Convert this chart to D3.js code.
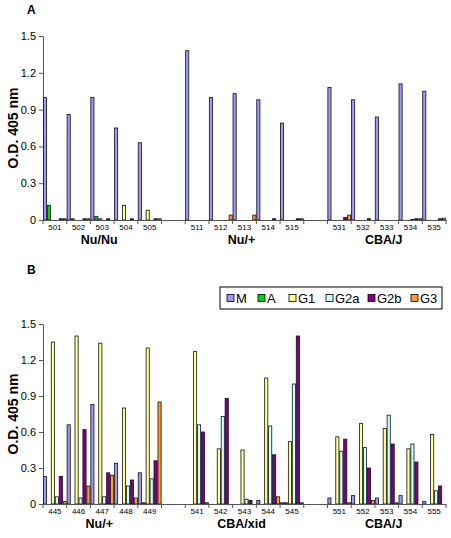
<!DOCTYPE html>
<html><head><meta charset="utf-8">
<script src="https://cdn.jsdelivr.net/npm/d3@7/dist/d3.min.js"></script>
<style>body{margin:0;background:#fff}svg{display:block;font-family:"Liberation Sans",Arial,sans-serif}</style>
</head><body><svg id="c" width="451" height="538"></svg>
<script>
const seriesNames = ["M","A","G1","G2a","G2b","G3"];
const seriesColors = ["#9999ff","#11cc11","#ffff99","#ccffff","#800080","#ff9933"];
const yTicks = [0,0.3,0.6,0.9,1.2,1.5];

// Panel A
const catsA = ["501","502","503","504","505","","511","512","513","514","515","","531","532","533","534","535"];
const groupsA = ["Nu/Nu","Nu/+","CBA/J"];
const A_M   = [1.00,0.86,1.00,0.75,0.63,null,1.38,1.00,1.03,0.98,0.79,null,1.08,0.98,0.84,1.11,1.05];
const A_A   = [0.12,0.01,0.03,0,0,null,0,0,0,0,0,null,0,0,0,0,0];
const A_G1  = [0,0,0.01,0.12,0.08,null,0,0,0,0,0,null,0,0,0,0,0];
const A_G2a = [0,0,0,0,0,null,0,0,0,0,0,null,0,0,0,0.005,0];
const A_G2b = [0.01,0.01,0.01,0.01,0.01,null,0,0,0,0.01,0.01,null,0.02,0.01,0,0.01,0.01];
const A_G3  = [0.01,0.01,0,0,0.01,null,0,0.04,0.04,0,0.01,null,0.04,0,0,0.01,0.015];

// Panel B
const catsB = ["445","446","447","448","449","","541","542","543","544","545","","551","552","553","554","555"];
const groupsB = ["Nu/+","CBA/xid","CBA/J"];
const B_M   = [0.23,0.66,0.83,0.34,0.26,null,0,0,0,0.03,0.01,null,0.05,0.07,0.05,0.07,0.02];
const B_A   = [0,0,0,0,0.01,null,0,0,0,0,0.01,null,0,0,0,0,0];
const B_G1  = [1.35,1.40,1.34,0.80,1.30,null,1.27,0.46,0.45,1.05,0.52,null,0.56,0.67,0.63,0.46,0.58];
const B_G2a = [0.06,0.05,0.06,0.15,0.21,null,0.66,0.73,0.04,0.65,1.00,null,0.44,0.47,0.74,0.50,0.11];
const B_G2b = [0.23,0.62,0.26,0.20,0.36,null,0.60,0.88,0.03,0.41,1.40,null,0.54,0.30,0.50,0.35,0.15];
const B_G3  = [0.02,0.15,0.24,0.05,0.85,null,0.01,0,0,0.06,0.01,null,0.01,0.03,0.01,0,0];

const svg = d3.select("#c");
const color = d3.scaleOrdinal(seriesNames, seriesColors);

function panel(cfg){
  const g = svg.append("g");
  const keys = cfg.cats.map((c,i)=> c===""?"gap"+i:c);
  const x = d3.scaleBand().domain(keys).range([cfg.x0, cfg.x1]).paddingInner(0).paddingOuter(0);
  const x1 = d3.scaleBand().domain(seriesNames).range([0, x.bandwidth()]).padding(0);
  const y = d3.scaleLinear().domain([0,1.5]).range([cfg.yb, cfg.yt]);

  g.append("text").attr("x", 27).attr("y", cfg.letterY).attr("font-size", 12).attr("font-weight","bold").text(cfg.letter);

  const ya = g.append("g").attr("transform",`translate(${cfg.x0},0)`)
    .call(d3.axisLeft(y).tickValues(yTicks).tickSize(4).tickSizeOuter(0).tickPadding(3)
      .tickFormat(d=> d===0?"0":d3.format(".1f")(d)));
  ya.selectAll("path,line").attr("stroke","#555");
  ya.selectAll("text").attr("font-size",11).attr("fill","#000").attr("font-family","Liberation Sans, Arial, sans-serif");

  g.append("text").attr("transform",`translate(18,${(cfg.yt+cfg.yb)/2}) rotate(-90)`)
    .attr("text-anchor","middle").attr("font-size",14).attr("font-weight","bold").text("O.D. 405 nm");

  const rows = [];
  cfg.series.forEach((arr,si)=>{
    arr.forEach((v,i)=>{ if(v!==null && v>0) rows.push({k:keys[i], s:seriesNames[si], v}); });
  });
  g.append("g").selectAll("rect").data(rows).join("rect")
    .attr("x", d=> x(d.k)+x1(d.s)+0.4)
    .attr("width", x1.bandwidth()-0.8)
    .attr("y", d=> y(d.v))
    .attr("height", d=> Math.max(0.8, y(0)-y(d.v)))
    .attr("fill", d=> color(d.s))
    .attr("stroke","#111").attr("stroke-width",0.8);

  const xa = g.append("g").attr("transform",`translate(0,${cfg.yb})`)
    .call(d3.axisBottom(x).tickSize(0).tickPadding(4).tickFormat(k=> k.startsWith("gap")?"":k));
  xa.select(".domain").attr("stroke","#555");
  xa.selectAll("text").attr("font-size",8).attr("fill","#000").attr("font-family","Liberation Sans, Arial, sans-serif");
  const bounds = keys.map(k=>x(k)).concat([x.range()[1]]);
  g.append("g").selectAll("line").data(bounds).join("line")
    .attr("x1",d=>d).attr("x2",d=>d).attr("y1",cfg.yb).attr("y2",cfg.yb+4).attr("stroke","#555");

  const gi = [[0,4],[6,10],[12,16]];
  g.append("g").selectAll("text").data(cfg.groups).join("text")
    .attr("x",(d,i)=> (x(keys[gi[i][0]]) + x(keys[gi[i][1]]) + x.bandwidth())/2 - 3)
    .attr("y", cfg.yb+24).attr("text-anchor","middle")
    .attr("font-size",12.5).attr("font-weight","bold").text(d=>d);
  return g;
}

panel({letter:"A", letterY:14, cats:catsA, groups:groupsA, series:[A_M,A_A,A_G1,A_G2a,A_G2b,A_G3], x0:43, x1:446, yt:36, yb:220});
panel({letter:"B", letterY:274, cats:catsB, groups:groupsB, series:[B_M,B_A,B_G1,B_G2a,B_G2b,B_G3], x0:43, x1:446, yt:324, yb:504});

// legend
const lg = svg.append("g");
lg.append("rect").attr("x",220).attr("y",287).attr("width",222).attr("height",22).attr("fill","#fff").attr("stroke","#000").attr("stroke-width",1);
const legX = [227,258,289,326,368,411];
const items = lg.selectAll("g").data(seriesNames).join("g").attr("transform",(d,i)=>`translate(${legX[i]},0)`);
items.append("rect").attr("x",0).attr("y",294.5).attr("width",7).attr("height",7).attr("fill",d=>color(d)).attr("stroke","#000").attr("stroke-width",0.8);
items.append("text").attr("x",9).attr("y",303).attr("font-size",13).text(d=>d);
</script></body></html>
